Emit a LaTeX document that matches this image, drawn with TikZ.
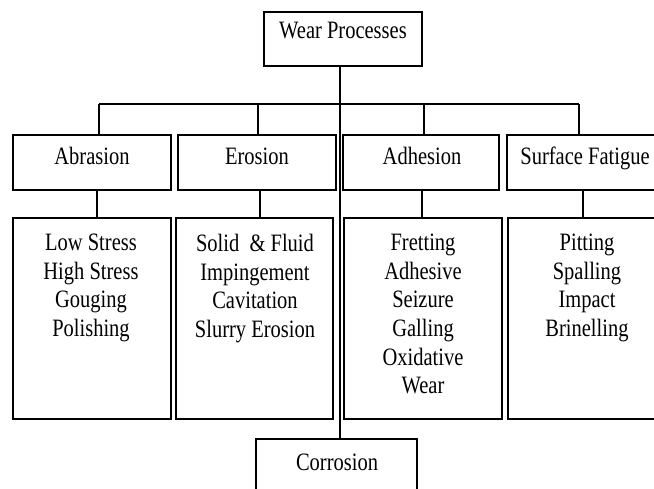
\documentclass[tikz,border=0pt]{standalone}
\usepackage{fontspec}
\setmainfont[FakeStretch=0.82]{Liberation Serif}
\begin{document}
\begin{tikzpicture}[x=1pt,y=-1pt,
  topbox/.style={draw=black,line width=2.4pt,inner sep=0pt,minimum height=55pt},
  listbox/.style={draw=black,line width=1.6pt,inner sep=0pt,minimum height=201pt},
  conn/.style={draw=black,line width=1.3pt},
  lbl/.style={anchor=base,inner sep=0pt,font=\fontsize{25}{28.6}\selectfont},
  lst/.style={anchor=north,inner sep=0pt,align=center,font=\fontsize{25}{28.6}\selectfont}]
\useasboundingbox (0,0) rectangle (654,488);
% boxes
\node[topbox,minimum width=158pt,minimum height=54pt,line width=2.2pt] (wp) at (343,39) {};
\node[topbox,minimum width=158pt] (ab) at (92,162.5) {};
\node[topbox,minimum width=158pt] (er) at (257,162.5) {};
\node[topbox,minimum width=156pt] (ad) at (421,162.5) {};
\node[topbox,minimum width=158pt] (sf) at (586,162.5) {};
\node[listbox,minimum width=158pt] (abd) at (92,318.5) {};
\node[listbox,minimum width=157pt] (erd) at (254.5,318.5) {};
\node[listbox,minimum width=158pt] (add) at (423,318.5) {};
\node[listbox,minimum width=158pt] (sfd) at (587,318.5) {};
\node[draw=black,line width=1.6pt,inner sep=0pt,minimum width=161pt,minimum height=54pt] (cor) at (336.5,466) {};
% labels
\node[lbl] (twp) at (343,38) {Wear Processes};
\node[lbl] (tab) at (92,164) {Abrasion};
\node[lbl] (ter) at (257,164) {Erosion};
\node[lbl] (tad) at (422,164) {Adhesion};
\node[lbl] (tsf) at (585,164) {Surface Fatigue};
\node[lbl] (tcor) at (337,470) {Corrosion};
\node[lst] (tabd) at (91,234) {Low Stress\\High Stress\\Gouging\\Polishing};
\node[lst] (terd) at (255,234) {Solid \ \& Fluid\\Impingement\\Cavitation\\Slurry Erosion};
\node[lst] (tadd) at (423,234) {Fretting\\Adhesive\\Seizure\\Galling\\Oxidative\\Wear};
\node[lst] (tsfd) at (587,234) {Pitting\\Spalling\\Impact\\Brinelling};
% connectors
\coordinate (bl) at (99,104);
\coordinate (bm) at (258,104);
\coordinate (bc) at (340,104);
\coordinate (bn) at (424,104);
\coordinate (br) at (579,104);
\draw[conn] (bl) -- (br);
\draw[conn] (bl) -- (bl |- ab.north);
\draw[conn] (bm) -- (bm |- er.north);
\draw[conn] (bn) -- (bn |- ad.north);
\draw[conn] (br) -- (br |- sf.north);
\draw[conn] (bc |- wp.south) -- (bc |- cor.north);
\coordinate (c1) at (97,200);
\coordinate (c2) at (260,200);
\coordinate (c3) at (422,200);
\coordinate (c4) at (583,200);
\draw[conn] (c1 |- ab.south) -- (c1 |- abd.north);
\draw[conn] (c2 |- er.south) -- (c2 |- erd.north);
\draw[conn] (c3 |- ad.south) -- (c3 |- add.north);
\draw[conn] (c4 |- sf.south) -- (c4 |- sfd.north);
\end{tikzpicture}
\end{document}
